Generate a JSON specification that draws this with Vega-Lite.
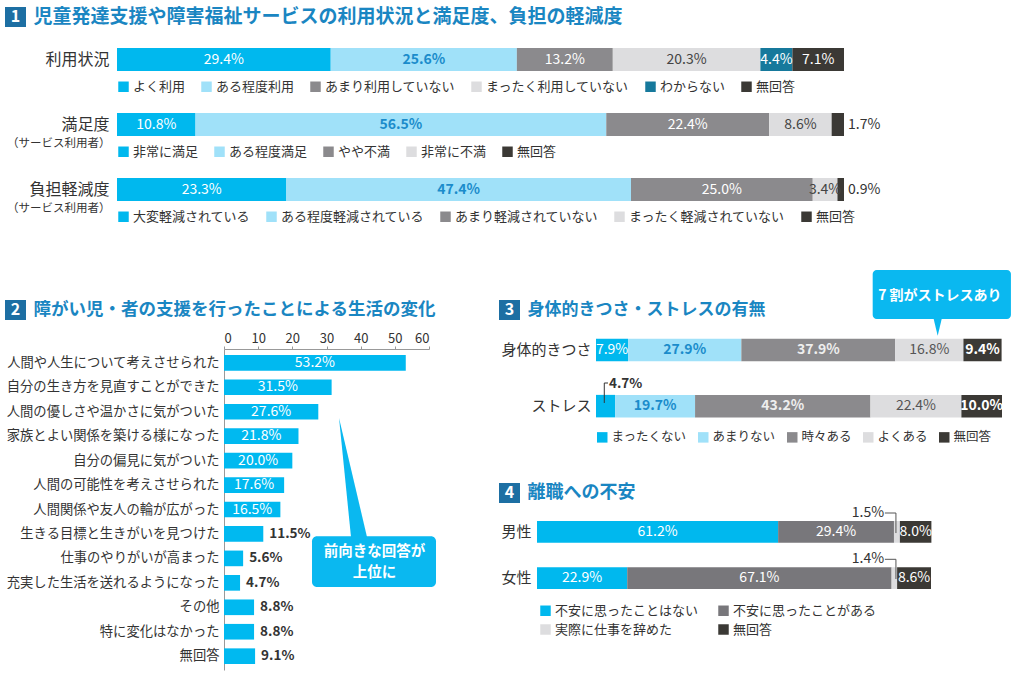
{
 "$schema": "https://vega.github.io/schema/vega-lite/v6.json",
 "background": "white",
 "padding": {"left": 5, "top": 7, "right": 4, "bottom": 2},
 "config": {
  "font": "Noto Sans CJK JP",
  "view": {"stroke": null},
  "legend": {"orient": "none", "direction": "horizontal", "symbolType": "square", "symbolSize": 110, "symbolStrokeWidth": 0, "labelFontSize": 13, "labelColor": "#333333", "labelOffset": 3, "padding": 0, "labelLimit": 400, "columnPadding": 14},
  "axis": {"labelColor": "#333333", "labelOverlap": false}
 },
 "spacing": 45,
 "vconcat": [
  {"spacing": 21, "vconcat": [
   {"spacing": 7, "hconcat": [
    {"width": 21, "height": 20, "view": {"fill": "#1d6fa3", "stroke": null},
     "data": {"values": [{"n": "1"}]},
     "mark": {"type": "text", "color": "white", "fontSize": 16, "fontWeight": "bold", "align": "center", "baseline": "middle"},
     "encoding": {"text": {"field": "n", "type": "nominal"}}},
    {"width": 1, "height": 20,
     "data": {"values": [{"t": "児童発達支援や障害福祉サービスの利用状況と満足度、負担の軽減度"}]},
     "mark": {"type": "text", "align": "left", "baseline": "middle", "fontSize": 19, "fontWeight": "bold", "color": "#1a86c2"},
     "encoding": {"text": {"field": "t", "type": "nominal"}}}
   ]},
   {"spacing": 0, "hconcat": [
    {"width": 1, "height": 1, "data": {"values": [{}]}, "mark": {"type": "rect", "opacity": 0}, "encoding": {}},
    {"bounds": "flush", "spacing": 42, "vconcat": [
     {"width": 727, "height": 23,
      "data": {"values": [
       {"row": "利用状況", "cat": "よく利用", "v": 0.294},
       {"row": "利用状況", "cat": "ある程度利用", "v": 0.256},
       {"row": "利用状況", "cat": "あまり利用していない", "v": 0.132},
       {"row": "利用状況", "cat": "まったく利用していない", "v": 0.203},
       {"row": "利用状況", "cat": "わからない", "v": 0.044},
       {"row": "利用状況", "cat": "無回答", "v": 0.071}
      ]},
      "transform": [{"stack": "v", "groupby": ["row"], "as": ["s0", "s1"]}],
      "layer": [
       {"mark": {"type": "bar"},
        "encoding": {
         "y": {"field": "row", "type": "nominal", "scale": {"paddingInner": 0, "paddingOuter": 0}, "axis": {"title": null, "labelFontSize": 16, "labelColor": "#333333", "ticks": false, "domain": false, "labelPadding": 8}},
         "x": {"field": "s0", "type": "quantitative", "scale": {"domain": [0, 1]}, "axis": null},
         "x2": {"field": "s1"},
         "color": {"field": "cat", "type": "nominal", "sort": null, "scale": {"domain": ["よく利用", "ある程度利用", "あまり利用していない", "まったく利用していない", "わからない", "無回答"], "range": ["#00b8ee", "#a0e1f9", "#8b8a8d", "#dddddf", "#16799c", "#3b3935"]}, "legend": {"title": null, "legendX": 0, "legendY": 32}}
        }},
       {"transform": [{"filter": "datum.v >= 0.02"}, {"fold": ["s0", "s1"], "as": ["k", "pos"]}],
        "mark": {"type": "text", "fontSize": 14, "baseline": "middle", "fontWeight": {"expr": "datum.cat === 'ある程度利用' ? 'bold' : 'normal'"}},
        "encoding": {
         "y": {"field": "row", "type": "nominal"},
         "x": {"aggregate": "mean", "field": "pos", "type": "quantitative", "scale": {"domain": [0, 1]}, "axis": null},
         "text": {"field": "v", "type": "quantitative", "format": ".1%"},
         "color": {"field": "cat", "type": "nominal", "scale": {"domain": ["よく利用", "ある程度利用", "あまり利用していない", "まったく利用していない", "わからない", "無回答"], "range": ["#ffffff", "#1b8ccb", "#ffffff", "#444444", "#ffffff", "#ffffff"]}, "legend": null}
        }}
      ],
      "resolve": {"scale": {"color": "independent"}}},
     {"width": 727, "height": 23,
      "data": {"values": [
       {"row": "満足度", "cat": "非常に満足", "v": 0.108},
       {"row": "満足度", "cat": "ある程度満足", "v": 0.565},
       {"row": "満足度", "cat": "やや不満", "v": 0.224},
       {"row": "満足度", "cat": "非常に不満", "v": 0.086},
       {"row": "満足度", "cat": "無回答", "v": 0.017}
      ]},
      "transform": [{"stack": "v", "groupby": ["row"], "as": ["s0", "s1"]}],
      "layer": [
       {"mark": {"type": "bar"},
        "encoding": {
         "y": {"field": "row", "type": "nominal", "scale": {"paddingInner": 0, "paddingOuter": 0}, "axis": {"title": "（サービス利用者）", "titleAngle": 0, "titleAlign": "right", "titleBaseline": "middle", "titleX": -7, "titleY": 30, "titleFontSize": 11.5, "titleFontWeight": "normal", "titleColor": "#333333", "labelFontSize": 16, "labelColor": "#333333", "ticks": false, "domain": false, "labelPadding": 8}},
         "x": {"field": "s0", "type": "quantitative", "scale": {"domain": [0, 1]}, "axis": null},
         "x2": {"field": "s1"},
         "color": {"field": "cat", "type": "nominal", "sort": null, "scale": {"domain": ["非常に満足", "ある程度満足", "やや不満", "非常に不満", "無回答"], "range": ["#00b8ee", "#a0e1f9", "#8b8a8d", "#dddddf", "#3b3935"]}, "legend": {"title": null, "legendX": 0, "legendY": 32}}
        }},
       {"transform": [{"filter": "datum.v >= 0.02"}, {"fold": ["s0", "s1"], "as": ["k", "pos"]}],
        "mark": {"type": "text", "fontSize": 14, "baseline": "middle", "fontWeight": {"expr": "datum.cat === 'ある程度満足' ? 'bold' : 'normal'"}},
        "encoding": {
         "y": {"field": "row", "type": "nominal"},
         "x": {"aggregate": "mean", "field": "pos", "type": "quantitative", "scale": {"domain": [0, 1]}, "axis": null},
         "text": {"field": "v", "type": "quantitative", "format": ".1%"},
         "color": {"field": "cat", "type": "nominal", "scale": {"domain": ["非常に満足", "ある程度満足", "やや不満", "非常に不満", "無回答"], "range": ["#ffffff", "#1b8ccb", "#ffffff", "#444444", "#ffffff"]}, "legend": null}
        }},
       {"transform": [{"filter": "datum.v < 0.02"}],
        "mark": {"type": "text", "fontSize": 14, "baseline": "middle", "align": "left", "dx": 4, "color": "#333333"},
        "encoding": {
         "y": {"field": "row", "type": "nominal"},
         "x": {"field": "s1", "type": "quantitative", "scale": {"domain": [0, 1]}, "axis": null},
         "text": {"field": "v", "type": "quantitative", "format": ".1%"}
        }}
      ],
      "resolve": {"scale": {"color": "independent"}}},
     {"width": 727, "height": 23,
      "data": {"values": [
       {"row": "負担軽減度", "cat": "大変軽減されている", "v": 0.233},
       {"row": "負担軽減度", "cat": "ある程度軽減されている", "v": 0.474},
       {"row": "負担軽減度", "cat": "あまり軽減されていない", "v": 0.25},
       {"row": "負担軽減度", "cat": "まったく軽減されていない", "v": 0.034},
       {"row": "負担軽減度", "cat": "無回答", "v": 0.009}
      ]},
      "transform": [{"stack": "v", "groupby": ["row"], "as": ["s0", "s1"]}],
      "layer": [
       {"mark": {"type": "bar"},
        "encoding": {
         "y": {"field": "row", "type": "nominal", "scale": {"paddingInner": 0, "paddingOuter": 0}, "axis": {"title": "（サービス利用者）", "titleAngle": 0, "titleAlign": "right", "titleBaseline": "middle", "titleX": -7, "titleY": 30, "titleFontSize": 11.5, "titleFontWeight": "normal", "titleColor": "#333333", "labelFontSize": 16, "labelColor": "#333333", "ticks": false, "domain": false, "labelPadding": 8}},
         "x": {"field": "s0", "type": "quantitative", "scale": {"domain": [0, 1]}, "axis": null},
         "x2": {"field": "s1"},
         "color": {"field": "cat", "type": "nominal", "sort": null, "scale": {"domain": ["大変軽減されている", "ある程度軽減されている", "あまり軽減されていない", "まったく軽減されていない", "無回答"], "range": ["#00b8ee", "#a0e1f9", "#8b8a8d", "#dddddf", "#3b3935"]}, "legend": {"title": null, "legendX": 0, "legendY": 32}}
        }},
       {"transform": [{"filter": "datum.v >= 0.02"}, {"fold": ["s0", "s1"], "as": ["k", "pos"]}],
        "mark": {"type": "text", "fontSize": 14, "baseline": "middle", "fontWeight": {"expr": "datum.cat === 'ある程度軽減されている' ? 'bold' : 'normal'"}},
        "encoding": {
         "y": {"field": "row", "type": "nominal"},
         "x": {"aggregate": "mean", "field": "pos", "type": "quantitative", "scale": {"domain": [0, 1]}, "axis": null},
         "text": {"field": "v", "type": "quantitative", "format": ".1%"},
         "color": {"field": "cat", "type": "nominal", "scale": {"domain": ["大変軽減されている", "ある程度軽減されている", "あまり軽減されていない", "まったく軽減されていない", "無回答"], "range": ["#ffffff", "#1b8ccb", "#ffffff", "#444444", "#ffffff"]}, "legend": null}
        }},
       {"transform": [{"filter": "datum.v < 0.02"}],
        "mark": {"type": "text", "fontSize": 14, "baseline": "middle", "align": "left", "dx": 4, "color": "#333333"},
        "encoding": {
         "y": {"field": "row", "type": "nominal"},
         "x": {"field": "s1", "type": "quantitative", "scale": {"domain": [0, 1]}, "axis": null},
         "text": {"field": "v", "type": "quantitative", "format": ".1%"}
        }}
      ],
      "resolve": {"scale": {"color": "independent"}}}
    ]}
   ]}
  ]},
  {"spacing": 62, "hconcat": [
   {"title": {"text": " ", "fontSize": 24, "offset": 7, "anchor": "start"}, "spacing": 12, "vconcat": [
    {"spacing": 7, "hconcat": [
     {"width": 21, "height": 20, "view": {"fill": "#1d6fa3", "stroke": null},
      "data": {"values": [{"n": "2"}]},
      "mark": {"type": "text", "color": "white", "fontSize": 16, "fontWeight": "bold", "align": "center", "baseline": "middle"},
      "encoding": {"text": {"field": "n", "type": "nominal"}}},
     {"width": 1, "height": 20,
      "data": {"values": [{"t": "障がい児・者の支援を行ったことによる生活の変化"}]},
      "mark": {"type": "text", "align": "left", "baseline": "middle", "fontSize": 17.5, "fontWeight": "bold", "color": "#1a86c2"},
      "encoding": {"text": {"field": "t", "type": "nominal"}}}
    ]},
    {"spacing": 0, "hconcat": [
     {"width": 1, "height": 1, "data": {"values": [{}]}, "mark": {"type": "rect", "opacity": 0}, "encoding": {}},
     {"width": 205, "height": 321,
      "layer": [
       {"data": {"values": [
         {"item": "人間や人生について考えさせられた", "v": 0.532},
         {"item": "自分の生き方を見直すことができた", "v": 0.315},
         {"item": "人間の優しさや温かさに気がついた", "v": 0.276},
         {"item": "家族とよい関係を築ける様になった", "v": 0.218},
         {"item": "自分の偏見に気がついた", "v": 0.2},
         {"item": "人間の可能性を考えさせられた", "v": 0.176},
         {"item": "人間関係や友人の輪が広がった", "v": 0.165},
         {"item": "生きる目標と生きがいを見つけた", "v": 0.115},
         {"item": "仕事のやりがいが高まった", "v": 0.056},
         {"item": "充実した生活を送れるようになった", "v": 0.047},
         {"item": "その他", "v": 0.088},
         {"item": "特に変化はなかった", "v": 0.088},
         {"item": "無回答", "v": 0.091}
        ]},
        "layer": [
         {"mark": {"type": "bar", "color": "#00b9f0"},
          "encoding": {
           "y": {"field": "item", "type": "nominal", "sort": null, "scale": {"paddingInner": 0.36, "paddingOuter": 0.245}, "axis": {"title": null, "labelFontSize": 13.3, "labelColor": "#333333", "ticks": false, "domain": true, "domainColor": "#999999", "labelPadding": 5, "labelLimit": 300}},
           "x": {"field": "v", "type": "quantitative", "scale": {"domain": [0, 0.6]}, "axis": {"orient": "top", "title": null, "values": [0, 0.1, 0.2, 0.3, 0.4, 0.5, 0.6], "format": ".0%", "labelExpr": "replace(datum.label, '%', '')", "labelOverlap": false, "grid": false, "tickSize": 3, "tickColor": "#999999", "domainColor": "#999999", "labelPadding": 1, "labelFontSize": 13, "labelColor": "#333333"}}
          }},
         {"transform": [{"filter": "datum.v >= 0.15"}, {"stack": "v", "groupby": ["item"], "as": ["s0", "s1"]}, {"fold": ["s0", "s1"], "as": ["k", "pos"]}],
          "mark": {"type": "text", "color": "white", "fontSize": 14, "baseline": "middle"},
          "encoding": {
           "y": {"field": "item", "type": "nominal", "sort": null},
           "x": {"aggregate": "mean", "field": "pos", "type": "quantitative", "scale": {"domain": [0, 0.6]}, "axis": {"orient": "top", "title": null, "values": [0, 0.1, 0.2, 0.3, 0.4, 0.5, 0.6], "format": ".0%", "labelExpr": "replace(datum.label, '%', '')", "labelOverlap": false, "grid": false, "tickSize": 3, "tickColor": "#999999", "domainColor": "#999999", "labelPadding": 1, "labelFontSize": 13, "labelColor": "#333333"}},
           "text": {"field": "v", "type": "quantitative", "format": ".1%"}
          }},
         {"transform": [{"filter": "datum.v < 0.15"}],
          "mark": {"type": "text", "color": "#333333", "fontSize": 13.5, "fontWeight": "bold", "align": "left", "dx": 6, "baseline": "middle"},
          "encoding": {
           "y": {"field": "item", "type": "nominal", "sort": null},
           "x": {"field": "v", "type": "quantitative", "scale": {"domain": [0, 0.6]}, "axis": {"orient": "top", "title": null, "values": [0, 0.1, 0.2, 0.3, 0.4, 0.5, 0.6], "format": ".0%", "labelExpr": "replace(datum.label, '%', '')", "labelOverlap": false, "grid": false, "tickSize": 3, "tickColor": "#999999", "domainColor": "#999999", "labelPadding": 1, "labelFontSize": 13, "labelColor": "#333333"}},
           "text": {"field": "v", "type": "quantitative", "format": ".1%"}
          }}
        ]},
       {"layer": [
         {"data": {"values": [{"shape": "box"}]},
          "mark": {"type": "rect", "color": "#0ab8f0", "cornerRadius": 5},
          "encoding": {
           "x": {"datum": 0.2576, "type": "quantitative", "scale": {"domain": [0, 0.6]}, "axis": {"orient": "top", "title": null, "values": [0, 0.1, 0.2, 0.3, 0.4, 0.5, 0.6], "format": ".0%", "labelExpr": "replace(datum.label, '%', '')", "labelOverlap": false, "grid": false, "tickSize": 3, "tickColor": "#999999", "domainColor": "#999999", "labelPadding": 1, "labelFontSize": 13, "labelColor": "#333333"}},
           "x2": {"datum": 0.6205},
           "y": {"datum": 7.65, "type": "quantitative", "scale": {"domain": [0, 13.12], "reverse": true, "nice": false, "zero": false}, "axis": null},
           "y2": {"datum": 9.73}
          }},
         {"data": {"values": [{"shape": "pointer"}]},
          "mark": {"type": "point", "shape": "M-0.235,-1L-0.034,1L0.235,1Z", "size": 14161, "filled": true, "opacity": 1, "color": "#0ab8f0", "strokeWidth": 0},
          "encoding": {
           "x": {"datum": 0.3776, "type": "quantitative", "scale": {"domain": [0, 0.6]}, "axis": {"orient": "top", "title": null, "values": [0, 0.1, 0.2, 0.3, 0.4, 0.5, 0.6], "format": ".0%", "labelExpr": "replace(datum.label, '%', '')", "labelOverlap": false, "grid": false, "tickSize": 3, "tickColor": "#999999", "domainColor": "#999999", "labelPadding": 1, "labelFontSize": 13, "labelColor": "#333333"}},
           "y": {"datum": 5.25, "type": "quantitative", "scale": {"domain": [0, 13.12], "reverse": true, "nice": false, "zero": false}, "axis": null}
          }},
         {"data": {"values": [{"note": "前向きな回答が\n上位に"}]},
          "mark": {"type": "text", "color": "white", "fontSize": 14.5, "fontWeight": "bold", "lineBreak": "\n", "lineHeight": 21, "align": "center", "baseline": "middle"},
          "encoding": {
           "x": {"datum": 0.4405, "type": "quantitative", "scale": {"domain": [0, 0.6]}, "axis": {"orient": "top", "title": null, "values": [0, 0.1, 0.2, 0.3, 0.4, 0.5, 0.6], "format": ".0%", "labelExpr": "replace(datum.label, '%', '')", "labelOverlap": false, "grid": false, "tickSize": 3, "tickColor": "#999999", "domainColor": "#999999", "labelPadding": 1, "labelFontSize": 13, "labelColor": "#333333"}},
           "y": {"datum": 8.3, "type": "quantitative", "scale": {"domain": [0, 13.12], "reverse": true, "nice": false, "zero": false}, "axis": null},
           "text": {"field": "note", "type": "nominal"}
          }}
        ]}
      ],
      "resolve": {"scale": {"y": "independent"}}}
    ]}
   ]},
   {"spacing": 39, "vconcat": [
    {"spacing": -51, "vconcat": [
     {"spacing": 7, "hconcat": [
      {"width": 21, "height": 20, "view": {"fill": "#1d6fa3", "stroke": null},
       "data": {"values": [{"n": "3"}]},
       "mark": {"type": "text", "color": "white", "fontSize": 16, "fontWeight": "bold", "align": "center", "baseline": "middle"},
       "encoding": {"text": {"field": "n", "type": "nominal"}}},
      {"width": 1, "height": 20,
       "data": {"values": [{"t": "身体的きつさ・ストレスの有無"}]},
       "mark": {"type": "text", "align": "left", "baseline": "middle", "fontSize": 17, "fontWeight": "bold", "color": "#1a86c2"},
       "encoding": {"text": {"field": "t", "type": "nominal"}}}
     ]},
     {"spacing": 0, "hconcat": [
      {"width": 1, "height": 1, "data": {"values": [{}]}, "mark": {"type": "rect", "opacity": 0}, "encoding": {}},
      {"width": 406, "height": 90,
       "data": {"values": [
        {"row": "身体的きつさ", "cat": "まったくない", "v": 0.079},
        {"row": "身体的きつさ", "cat": "あまりない", "v": 0.279},
        {"row": "身体的きつさ", "cat": "時々ある", "v": 0.379},
        {"row": "身体的きつさ", "cat": "よくある", "v": 0.168},
        {"row": "身体的きつさ", "cat": "無回答", "v": 0.094},
        {"row": "ストレス", "cat": "まったくない", "v": 0.047},
        {"row": "ストレス", "cat": "あまりない", "v": 0.197},
        {"row": "ストレス", "cat": "時々ある", "v": 0.432},
        {"row": "ストレス", "cat": "よくある", "v": 0.224},
        {"row": "ストレス", "cat": "無回答", "v": 0.1}
       ]},
       "layer": [
        {"transform": [{"stack": "v", "groupby": ["row"], "as": ["s0", "s1"]}],
         "layer": [
          {"mark": {"type": "bar"},
           "encoding": {
            "y": {"field": "row", "type": "nominal", "sort": null, "scale": {"paddingInner": 0.6, "paddingOuter": 0.1}, "axis": {"title": null, "labelFontSize": 15, "labelColor": "#333333", "ticks": false, "domain": false, "labelPadding": 5}},
            "x": {"field": "s0", "type": "quantitative", "scale": {"domain": [0, 1]}, "axis": null},
            "x2": {"field": "s1"},
            "color": {"field": "cat", "type": "nominal", "sort": null, "scale": {"domain": ["まったくない", "あまりない", "時々ある", "よくある", "無回答"], "range": ["#00b8ee", "#a0e1f9", "#8b8a8d", "#dddddf", "#3b3935"]}, "legend": {"title": null, "legendX": 0, "legendY": 98, "labelFontSize": 12.5, "columnPadding": 10}}
           }},
          {"transform": [{"filter": "datum.v >= 0.05"}, {"fold": ["s0", "s1"], "as": ["k", "pos"]}],
           "mark": {"type": "text", "fontSize": 14, "baseline": "middle", "fontWeight": {"expr": "indexof(['あまりない', '時々ある', '無回答'], datum.cat) >= 0 ? 'bold' : 'normal'"}},
           "encoding": {
            "y": {"field": "row", "type": "nominal", "sort": null},
            "x": {"aggregate": "mean", "field": "pos", "type": "quantitative", "scale": {"domain": [0, 1]}, "axis": null},
            "text": {"field": "v", "type": "quantitative", "format": ".1%"},
            "color": {"field": "cat", "type": "nominal", "scale": {"domain": ["まったくない", "あまりない", "時々ある", "よくある", "無回答"], "range": ["#ffffff", "#1b8ccb", "#eeeeee", "#555555", "#ffffff"]}, "legend": null}
           }},
          {"transform": [{"filter": "datum.v < 0.05"}],
           "mark": {"type": "text", "fontSize": 13.5, "fontWeight": "bold", "color": "#333333", "align": "left", "baseline": "middle", "dy": -22.5},
           "encoding": {
            "y": {"field": "row", "type": "nominal", "sort": null},
            "x": {"datum": 0.032, "type": "quantitative", "scale": {"domain": [0, 1]}, "axis": null},
            "text": {"field": "v", "type": "quantitative", "format": ".1%"}
           }}
         ],
         "resolve": {"scale": {"color": "independent"}}},
        {"layer": [
          {"data": {"values": [{"shape": "box"}]},
           "mark": {"type": "rect", "color": "#0ab8f0", "cornerRadius": 4},
           "encoding": {
            "x": {"datum": 0.6815, "type": "quantitative", "scale": {"domain": [0, 1]}, "axis": null},
            "x2": {"datum": 1.022},
            "y": {"datum": -1.12, "type": "quantitative", "scale": {"domain": [0, 1.6], "reverse": true, "nice": false, "zero": false}, "axis": null},
            "y2": {"datum": -0.249}
           }},
          {"data": {"values": [{"shape": "pointer"}]},
           "mark": {"type": "point", "shape": "M-0.48,-1L0.48,-1L0,1Z", "size": 279, "filled": true, "opacity": 1, "color": "#0ab8f0", "strokeWidth": 0},
           "encoding": {
            "x": {"datum": 0.8416, "type": "quantitative", "scale": {"domain": [0, 1]}, "axis": null},
            "y": {"datum": -0.0996, "type": "quantitative", "scale": {"domain": [0, 1.6], "reverse": true, "nice": false, "zero": false}, "axis": null}
           }},
          {"data": {"values": [{"note": "7 割がストレスあり"}]},
           "mark": {"type": "text", "color": "white", "fontSize": 14, "fontWeight": "bold", "align": "center", "baseline": "middle"},
           "encoding": {
            "x": {"datum": 0.847, "type": "quantitative", "scale": {"domain": [0, 1]}, "axis": null},
            "y": {"datum": -0.663, "type": "quantitative", "scale": {"domain": [0, 1.6], "reverse": true, "nice": false, "zero": false}, "axis": null},
            "text": {"field": "note", "type": "nominal"}
           }},
          {"data": {"values": [{"shape": "bracket"}]},
           "mark": {"type": "rule", "color": "#333333", "strokeWidth": 1},
           "encoding": {
            "x": {"datum": 0.0204, "type": "quantitative", "scale": {"domain": [0, 1]}, "axis": null},
            "y": {"datum": 0.889, "type": "quantitative", "scale": {"domain": [0, 1.6], "reverse": true, "nice": false, "zero": false}, "axis": null},
            "y2": {"datum": 1.244}
           }},
          {"data": {"values": [{"shape": "bracket"}]},
           "mark": {"type": "rule", "color": "#333333", "strokeWidth": 1},
           "encoding": {
            "x": {"datum": 0.0204, "type": "quantitative", "scale": {"domain": [0, 1]}, "axis": null},
            "x2": {"datum": 0.0296},
            "y": {"datum": 0.889, "type": "quantitative", "scale": {"domain": [0, 1.6], "reverse": true, "nice": false, "zero": false}, "axis": null}
           }}
        ]}
       ],
       "resolve": {"scale": {"y": "independent"}}}
     ]}
    ]},
    {"spacing": 2, "vconcat": [
     {"spacing": 7, "hconcat": [
      {"width": 21, "height": 20, "view": {"fill": "#1d6fa3", "stroke": null},
       "data": {"values": [{"n": "4"}]},
       "mark": {"type": "text", "color": "white", "fontSize": 16, "fontWeight": "bold", "align": "center", "baseline": "middle"},
       "encoding": {"text": {"field": "n", "type": "nominal"}}},
      {"width": 1, "height": 20,
       "data": {"values": [{"t": "離職への不安"}]},
       "mark": {"type": "text", "align": "left", "baseline": "middle", "fontSize": 18, "fontWeight": "bold", "color": "#1a86c2"},
       "encoding": {"text": {"field": "t", "type": "nominal"}}}
     ]},
     {"spacing": 0, "hconcat": [
      {"width": 1, "height": 1, "data": {"values": [{}]}, "mark": {"type": "rect", "opacity": 0}, "encoding": {}},
      {"width": 394, "height": 80,
       "data": {"values": [
        {"row": "男性", "cat": "不安に思ったことはない", "v": 0.612},
        {"row": "男性", "cat": "不安に思ったことがある", "v": 0.294},
        {"row": "男性", "cat": "実際に仕事を辞めた", "v": 0.015},
        {"row": "男性", "cat": "無回答", "v": 0.08},
        {"row": "女性", "cat": "不安に思ったことはない", "v": 0.229},
        {"row": "女性", "cat": "不安に思ったことがある", "v": 0.671},
        {"row": "女性", "cat": "実際に仕事を辞めた", "v": 0.014},
        {"row": "女性", "cat": "無回答", "v": 0.086}
       ]},
       "layer": [
        {"transform": [{"stack": "v", "groupby": ["row"], "as": ["s0", "s1"]}],
         "layer": [
          {"mark": {"type": "bar"},
           "encoding": {
            "y": {"field": "row", "type": "nominal", "sort": null, "scale": {"paddingInner": 0.53, "paddingOuter": 0.13}, "axis": {"title": null, "labelFontSize": 15, "labelColor": "#333333", "ticks": false, "domain": false, "labelPadding": 6}},
            "x": {"field": "s0", "type": "quantitative", "scale": {"domain": [0, 1]}, "axis": null},
            "x2": {"field": "s1"},
            "color": {"field": "cat", "type": "nominal", "sort": null, "scale": {"domain": ["不安に思ったことはない", "不安に思ったことがある", "実際に仕事を辞めた", "無回答"], "range": ["#00b8ee", "#78777b", "#dddddf", "#3b3935"]}, "legend": {"title": null, "legendX": 2, "legendY": 89, "columns": 2, "columnPadding": 18, "rowPadding": 5}}
           }},
          {"transform": [{"filter": "datum.v >= 0.05"}, {"fold": ["s0", "s1"], "as": ["k", "pos"]}],
           "mark": {"type": "text", "fontSize": 14, "baseline": "middle", "color": "white"},
           "encoding": {
            "y": {"field": "row", "type": "nominal", "sort": null},
            "x": {"aggregate": "mean", "field": "pos", "type": "quantitative", "scale": {"domain": [0, 1]}, "axis": null},
            "text": {"field": "v", "type": "quantitative", "format": ".1%"},
            "detail": {"field": "cat", "type": "nominal"}
           }},
          {"transform": [{"filter": "datum.v < 0.05"}],
           "mark": {"type": "text", "fontSize": 14, "color": "#333333", "align": "right", "baseline": "middle", "dy": -19},
           "encoding": {
            "y": {"field": "row", "type": "nominal", "sort": null},
            "x": {"datum": 0.881, "type": "quantitative", "scale": {"domain": [0, 1]}, "axis": null},
            "text": {"field": "v", "type": "quantitative", "format": ".1%"}
           }}
         ],
         "resolve": {"scale": {"color": "independent"}}},
        {"layer": [
          {"data": {"values": [{"shape": "bracket"}]},
           "mark": {"type": "rule", "color": "#555555", "strokeWidth": 1},
           "encoding": {
            "x": {"datum": 0.883, "type": "quantitative", "scale": {"domain": [0, 1]}, "axis": null},
            "x2": {"datum": 0.911},
            "y": {"datum": -0.043, "type": "quantitative", "scale": {"domain": [0, 1.73], "reverse": true, "nice": false, "zero": false}, "axis": null}
           }},
          {"data": {"values": [{"shape": "bracket"}]},
           "mark": {"type": "rule", "color": "#555555", "strokeWidth": 1},
           "encoding": {
            "x": {"datum": 0.911, "type": "quantitative", "scale": {"domain": [0, 1]}, "axis": null},
            "y": {"datum": -0.043, "type": "quantitative", "scale": {"domain": [0, 1.73], "reverse": true, "nice": false, "zero": false}, "axis": null},
            "y2": {"datum": 0.39}
           }},
          {"data": {"values": [{"shape": "bracket"}]},
           "mark": {"type": "rule", "color": "#555555", "strokeWidth": 1},
           "encoding": {
            "x": {"datum": 0.883, "type": "quantitative", "scale": {"domain": [0, 1]}, "axis": null},
            "x2": {"datum": 0.911},
            "y": {"datum": 0.958, "type": "quantitative", "scale": {"domain": [0, 1.73], "reverse": true, "nice": false, "zero": false}, "axis": null}
           }},
          {"data": {"values": [{"shape": "bracket"}]},
           "mark": {"type": "rule", "color": "#555555", "strokeWidth": 1},
           "encoding": {
            "x": {"datum": 0.911, "type": "quantitative", "scale": {"domain": [0, 1]}, "axis": null},
            "y": {"datum": 0.958, "type": "quantitative", "scale": {"domain": [0, 1.73], "reverse": true, "nice": false, "zero": false}, "axis": null},
            "y2": {"datum": 1.384}
           }}
        ]}
       ],
       "resolve": {"scale": {"y": "independent"}}}
     ]}
    ]}
   ]}
  ]}
 ]
}
